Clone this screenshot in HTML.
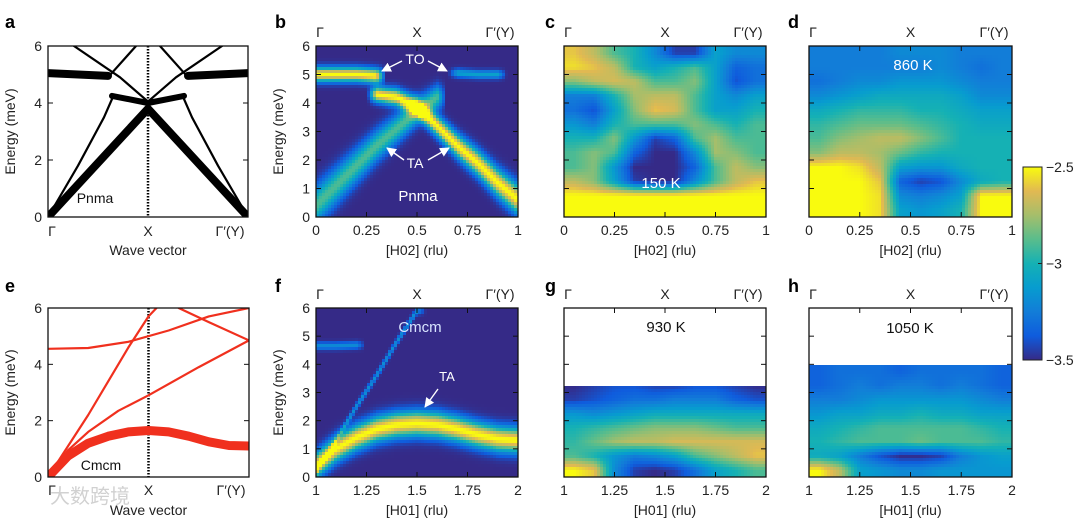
<!DOCTYPE html>
<html><head><meta charset="utf-8">
<style>
html,body{margin:0;padding:0;background:#fff;}
svg{display:block;font-family:"Liberation Sans","Noto Sans CJK SC",sans-serif;}
.t{font-size:14px;fill:#222;}
.l{font-size:18px;font-weight:bold;fill:#000;}
</style></head>
<body>
<svg id="fig" width="1080" height="519" viewBox="0 0 1080 519" xmlns="http://www.w3.org/2000/svg">
<defs>
<linearGradient id="parula" x1="0" y1="1" x2="0" y2="0">
<stop offset="0" stop-color="#352a87"/><stop offset="0.125" stop-color="#0f5cdd"/><stop offset="0.25" stop-color="#127dd8"/><stop offset="0.375" stop-color="#079ccf"/><stop offset="0.5" stop-color="#15b1b4"/><stop offset="0.625" stop-color="#59bd8c"/><stop offset="0.75" stop-color="#a5be6b"/><stop offset="0.875" stop-color="#e1b952"/><stop offset="1" stop-color="#f9fb0e"/>
</linearGradient>
<marker id="arr" viewBox="0 0 10 10" refX="9" refY="5" markerWidth="7" markerHeight="7" orient="auto"><path d="M0,0 L10,5 L0,10 z" fill="#fff"/></marker>
</defs>
<g id="root"></g>
</svg>
<script>
// ---------- data ----------
const bandKnots = [0,0.1,0.2,0.3,0.4,0.5,0.6,0.7,0.8,0.9,1.0];
const bTA1 = [0.4,1.1,1.8,2.5,3.1,3.7,4.2,null,null,null,null];
const bTA2 = [null,null,null,4.3,4.2,3.85,3.2,2.5,1.9,1.2,0.6];
const bTO1 = [5.0,5.0,5.0,4.95,null,null,null,null,null,null,null];
const bTO2 = [null,null,null,null,null,null,null,5.05,5.0,5.0,null];
const fTA = [0.4,1.0,1.4,1.7,1.85,1.9,1.85,1.7,1.5,1.35,1.3];
const fSteep = [0.2,1.3,2.5,3.6,4.8,5.9,null,null,null,null,null];
const fFlat = [4.65,4.65,4.68,null,null,null,null,null,null,null,null];
const cRows = [
[.9,.8,.6,.5,.3,.05,.05,.4,.3,.3],
[.95,.9,.8,.5,.4,.5,.6,.4,.15,.2],
[.7,.8,.85,.8,.6,.6,.7,.4,.1,.2],
[.25,.25,.5,.75,.8,.8,.6,.4,.3,.4],
[.2,.1,.4,.7,.9,.85,.6,.4,.4,.5],
[.35,.25,.5,.6,.6,.6,.7,.6,.5,.6],
[.5,.5,.7,.35,.05,.15,.6,.75,.6,.6],
[.6,.7,.6,.15,0,0,.3,.75,.7,.6],
[.6,.7,.35,0,0,0,.15,.6,.8,.7],
[.8,.7,.4,.05,0,0,.3,.6,.8,.9],
[1,1,1,1,1,1,1,1,1,1],
[1,1,1,1,1,1,1,1,1,1]];
const dRows = [
[.25,.25,.25,.25,.3,.3,.3,.25,.25,.25],
[.25,.25,.25,.25,.25,.25,.3,.25,.2,.25],
[.2,.25,.3,.3,.35,.35,.35,.3,.25,.25],
[.3,.35,.4,.45,.45,.45,.45,.4,.3,.3],
[.45,.5,.55,.55,.55,.5,.5,.45,.4,.4],
[.55,.6,.65,.65,.65,.6,.55,.5,.45,.45],
[.6,.7,.75,.8,.8,.7,.6,.5,.5,.5],
[.7,.8,.8,.75,.65,.55,.5,.5,.5,.5],
[1,1,.95,.8,.4,.35,.35,.45,.5,.5],
[1,1,1,.9,.15,.05,.1,.3,.45,.5],
[1,1,1,.95,.3,.25,.3,.4,1,1],
[1,1,1,.95,.4,.35,.4,.5,1,1]];
const gRows = [
[0,.05,.1,.1,.05,.05,.1,.1,.05,0],
[.05,.1,.15,.2,.2,.25,.25,.25,.15,.1],
[.35,.3,.35,.4,.45,.45,.45,.45,.45,.45],
[.5,.55,.6,.65,.7,.7,.7,.65,.6,.6],
[.55,.65,.75,.8,.8,.85,.85,.85,.85,.85],
[.6,.5,.35,.25,.3,.4,.6,.7,.8,.9],
[1,.9,.3,.05,0,.05,.2,.4,.5,.6]];
const hRows = [
[.15,.2,.2,.2,.15,.2,.2,.2,.2,.15],
[.15,.2,.25,.2,.25,.25,.2,.25,.2,.15],
[.25,.25,.3,.35,.35,.35,.35,.35,.3,.25],
[.35,.4,.4,.45,.45,.5,.45,.45,.4,.4],
[.45,.5,.55,.6,.6,.6,.6,.6,.55,.5],
[.5,.55,.6,.6,.6,.65,.6,.6,.6,.55],
[.45,.4,.25,.1,0,0,.05,.25,.35,.4],
[1,.8,.4,.35,.3,.3,.35,.35,.35,.35]];
const aAcoustic = [[0,0],[0.5,3.8],[1,0]];
const aTOleft = [[0,5.05],[0.3,4.95]];
const aTOright = [[0.7,4.95],[1,5.05]];
const aFlat4 = [[0.32,4.25],[0.5,4.0],[0.68,4.25]];
const aThin = [
[[0.13,6],[0.36,4.9],[0.5,4.05]],
[[0.87,6],[0.64,4.9],[0.5,4.05]],
[[0.3,4.9],[0.44,6]],
[[0.7,4.9],[0.56,6]],
[[0,0],[0.15,1.8],[0.28,3.5],[0.33,4.3]],
[[1,0],[0.85,1.8],[0.72,3.5],[0.67,4.3]]];
const eThick = [[0,0],[0.1,0.75],[0.2,1.2],[0.3,1.45],[0.4,1.6],[0.5,1.65],[0.6,1.6],[0.7,1.45],[0.8,1.25],[0.9,1.12],[1,1.1]];
const eThin = [
[[0,0],[0.1,0.95],[0.2,1.6],[0.35,2.35],[0.5,2.9],[0.75,3.9],[1,4.85]],
[[0,0],[0.1,1.1],[0.2,2.2],[0.4,4.6],[0.5,5.7],[0.54,6]],
[[0,4.55],[0.2,4.58],[0.4,4.8],[0.6,5.2],[0.8,5.7],[1,6.0]],
[[0.65,6],[0.8,5.5],[1,4.85]]];
const tickE6 = [0,2,4,6];
const tickE1 = [0,1,2,3,4,5,6];
const tickH02 = [0,0.25,0.5,0.75,1];
const tickH01 = [1,1.25,1.5,1.75,2];
const cbTicks = [-2.5,-3,-3.5];

// ---------- helpers ----------
const NS="http://www.w3.org/2000/svg";
const root=document.getElementById('root');
function mk(tag,attrs,parent){const e=document.createElementNS(NS,tag);for(const k in attrs)e.setAttribute(k,attrs[k]);(parent||root).appendChild(e);return e;}
function txt(x,y,s,cls,anchor,parent,extra){const e=mk('text',Object.assign({x:x,y:y,class:cls||'t','text-anchor':anchor||'middle'},extra||{}),parent);e.textContent=s;return e;}
const P={
a:{x0:48,x1:248,y0:46,y1:217,hmin:0,hmax:1},
b:{x0:316,x1:518,y0:46,y1:217,hmin:0,hmax:1},
c:{x0:564,x1:766,y0:46,y1:217,hmin:0,hmax:1},
d:{x0:809,x1:1012,y0:46,y1:217,hmin:0,hmax:1},
e:{x0:48,x1:249,y0:308,y1:477,hmin:0,hmax:1},
f:{x0:316,x1:518,y0:308,y1:477,hmin:1,hmax:2},
g:{x0:564,x1:766,y0:308,y1:477,hmin:1,hmax:2},
h:{x0:809,x1:1012,y0:308,y1:477,hmin:1,hmax:2}};
function xs(p,h){return p.x0+(h-p.hmin)/(p.hmax-p.hmin)*(p.x1-p.x0);}
function ys(p,E){return p.y1-E/6*(p.y1-p.y0);}
const PAR=[[53,42,135],[15,92,221],[18,125,216],[7,156,207],[21,177,180],[89,189,140],[165,190,107],[225,185,82],[249,251,14]];
function parula(v){v=Math.max(0,Math.min(1,v));const f=v*8,i=Math.min(7,Math.floor(f)),t=f-i;const a=PAR[i],b=PAR[i+1];return 'rgb('+a.map((c,k)=>Math.round(c+(b[k]-c)*t)).join(',')+')';}
function bandAt(arr,frac){const n=arr.length-1,f=frac*n,i=Math.min(n-1,Math.max(0,Math.floor(f))),t=f-i;const a=arr[i],b=arr[i+1];
if(a!=null&&b!=null)return {e:a+(b-a)*t,w:1};
if(a!=null)return {e:a,w:Math.max(0,1-t/0.45)};
if(b!=null)return {e:b,w:Math.max(0,1-(1-t)/0.45)};
return null;}
function simFn(p,bands){return function(h,E){const frac=(h-p.hmin)/(p.hmax-p.hmin);let v=0;for(const bd of bands){const r=bandAt(bd.arr,frac);if(r==null||r.w<=0)continue;const s=bd.s(frac);v+=bd.w*r.w*Math.exp(-(E-r.e)*(E-r.e)/(2*s*s));}return v;};}
function gridFn(p,rows){const nr=rows.length,nc=rows[0].length;return function(h,E){let ci=(h-p.hmin)/(p.hmax-p.hmin)*nc-0.5;let rb=E/0.5-0.5;ci=Math.max(0,Math.min(nc-1,ci));rb=Math.max(0,Math.min(nr-1,rb));const c0=Math.min(nc-2,Math.floor(ci)),tc=ci-c0;const r0=Math.min(nr-2,Math.floor(rb)),tr=rb-r0;const g=(r,c)=>rows[nr-1-r][c];const top=g(r0+1,c0)*(1-tc)+g(r0+1,c0+1)*tc;const bot=g(r0,c0)*(1-tc)+g(r0,c0+1)*tc;return bot*(1-tr)+top*tr;};}
function heat(p,fn,emax,name){const g=mk('g',{});


const st=3;for(let px=p.x0;px<p.x1;px+=st){for(let py=p.y0;py<p.y1;py+=st){const w=Math.min(st,p.x1-px),hh=Math.min(st,p.y1-py);const h=p.hmin+(px+w/2-p.x0)/(p.x1-p.x0)*(p.hmax-p.hmin);const E=(p.y1-(py+hh/2))/(p.y1-p.y0)*6;if(E>emax)continue;mk('rect',{x:px,y:py,width:w+0.4,height:hh+0.4,fill:parula(fn(h,E))},g);}}}
function poly(p,pts,color,w,name){const e=mk('polyline',{points:pts.map(q=>xs(p,q[0]).toFixed(1)+','+ys(p,q[1]).toFixed(1)).join(' '),fill:'none',stroke:color,'stroke-width':w,'stroke-linejoin':'round','stroke-linecap':'round','clip-path':'url(#clip-'+name.split('-')[0]+')'});


return e;}
function clip(id,p){const c=mk('clipPath',{id:'clip-'+id},document.querySelector('defs'));mk('rect',{x:p.x0,y:p.y0,width:p.x1-p.x0,height:p.y1-p.y0},c);}
function frame(id,p,yt,yLabels,xt,xLabels,tickColor){const g=mk('g',{});


mk('rect',{x:p.x0,y:p.y0,width:p.x1-p.x0,height:p.y1-p.y0,fill:'none',stroke:'#111','stroke-width':1.3},g);
for(const E of yt){const y=ys(p,E);mk('line',{x1:p.x0,y1:y,x2:p.x0+5,y2:y,stroke:tickColor,'stroke-width':1},g);mk('line',{x1:p.x1,y1:y,x2:p.x1-5,y2:y,stroke:tickColor,'stroke-width':1},g);if(yLabels){const t=txt(p.x0-6,y+5,String(E),'t','end',g);

}}
for(const h of xt){const x=xs(p,h);mk('line',{x1:x,y1:p.y1,x2:x,y2:p.y1-5,stroke:tickColor,'stroke-width':1},g);mk('line',{x1:x,y1:p.y0,x2:x,y2:p.y0+5,stroke:tickColor,'stroke-width':1},g);if(xLabels){const t=txt(x,p.y1+18,String(h),'t','middle',g);

}}}
function sym(p,yy,id){const lab=[['Γ',p.x0+4],['X',(p.x0+p.x1)/2],['Γ′(Y)',p.x1-18]];for(const L of lab){const t=txt(L[1],yy,L[0],'t','middle');

}}
function ylab(p,s){const cy=(p.y0+p.y1)/2,cx=p.x0-33;const t=txt(cx,cy,s,'t','middle',root,{transform:'rotate(-90 '+cx+' '+cy+')'});

}
function xlab(p,y,s){const t=txt((p.x0+p.x1)/2,y,s,'t','middle');

}
function letter(x,y,s){const t=txt(x,y,s,'l','start');

}
function note(x,y,s,color,size,name){const t=txt(x,y,s,'t','middle',root,{style:'fill:'+color+';font-size:'+size+'px'});

}
function arrow(x1,y1,x2,y2,name){const e=mk('line',{x1:x1,y1:y1,x2:x2,y2:y2,stroke:'#fff','stroke-width':1.4,'marker-end':'url(#arr)'});

}

// ---------- panel a ----------
let p=P.a;clip('a',p);
mk('line',{x1:xs(p,0.5),y1:p.y0,x2:xs(p,0.5),y2:p.y1,stroke:'#000','stroke-width':2.5,'stroke-dasharray':'1.5,1.5'});
poly(p,aAcoustic,'#000',8,'a-acoustic-band');
poly(p,aTOleft,'#000',8,'a-to-band-left');
poly(p,aTOright,'#000',8,'a-to-band-right');
poly(p,aFlat4,'#000',6,'a-optical-band');
aThin.forEach(l=>poly(p,l,'#000',2.2,'a-thin-band'));
frame('a',p,tickE6,true,[],false,'#111');
sym(p,p.y1+19,'a');xlab(p,255,'Wave vector');ylab(p,'Energy (meV)');letter(5,28,'a');
note(95,203,'Pnma','#111',14,'a-phase-label');

// ---------- panel b ----------
p=P.b;
heat(p,simFn(p,[{arr:bTA1,w:0.6,s:f=>0.45-0.3*f},{arr:bTA2,w:1.0,s:f=>0.1+0.25*f},{arr:bTO1,w:1.0,s:f=>0.17},{arr:bTO2,w:0.4,s:f=>0.1}]),6,'b-heatmap');
frame('b',p,tickE1,true,tickH02,true,'#111');
sym(p,37,'b');xlab(p,255,'[H02] (rlu)');ylab(p,'Energy (meV)');letter(275,28,'b');
note(415,64,'TO','#fff',14,'b-to-label');arrow(402,61,382,71,'b-to-arrow-left');arrow(428,61,447,71,'b-to-arrow-right');
note(415,168,'TA','#fff',14,'b-ta-label');arrow(404,160,387,148,'b-ta-arrow-left');arrow(428,160,449,148,'b-ta-arrow-right');
note(418,201,'Pnma','#fff',15,'b-phase-label');

// ---------- panel c ----------
p=P.c;heat(p,gridFn(p,cRows),6,'c-heatmap');
frame('c',p,tickE1,false,tickH02,true,'#111');sym(p,37,'c');xlab(p,255,'[H02] (rlu)');letter(545,28,'c');
note(661,188,'150 K','#fff',15,'c-temperature-label');

// ---------- panel d ----------
p=P.d;heat(p,gridFn(p,dRows),6,'d-heatmap');
frame('d',p,tickE1,false,tickH02,true,'#111');sym(p,37,'d');xlab(p,255,'[H02] (rlu)');letter(788,28,'d');
note(913,70,'860 K','#fff',15,'d-temperature-label');

// ---------- panel e ----------
p=P.e;clip('e',p);
mk('line',{x1:xs(p,0.5),y1:p.y0,x2:xs(p,0.5),y2:p.y1,stroke:'#000','stroke-width':2.5,'stroke-dasharray':'1.5,1.5'});
poly(p,eThick,'#f0301e',9,'e-acoustic-band');
eThin.forEach(l=>poly(p,l,'#f0301e',2.2,'e-thin-band'));
frame('e',p,tickE6,true,[],false,'#111');
sym(p,p.y1+18,'e');xlab(p,515,'Wave vector');ylab(p,'Energy (meV)');letter(5,292,'e');
note(101,470,'Cmcm','#111',14,'e-phase-label');
note(90,503,'大数跨境','rgba(190,190,190,0.7)',20,'watermark');

// ---------- panel f ----------
p=P.f;
heat(p,simFn(p,[{arr:fTA,w:1.0,s:f=>0.3},{arr:fSteep,w:0.32,s:f=>0.09},{arr:fFlat,w:0.3,s:f=>0.09}]),6,'f-heatmap');
frame('f',p,tickE1,true,tickH01,true,'#111');
sym(p,299,'f');xlab(p,515,'[H01] (rlu)');ylab(p,'Energy (meV)');letter(275,292,'f');
note(420,332,'Cmcm','#d8e4ff',15,'f-phase-label');
note(447,381,'TA','#fff',13,'f-ta-label');arrow(438,389,425,407,'f-ta-arrow');

// ---------- panel g ----------
p=P.g;heat(p,gridFn(p,gRows),3.2,'g-heatmap');
frame('g',p,tickE1,false,tickH01,true,'#111');sym(p,299,'g');xlab(p,515,'[H01] (rlu)');letter(545,292,'g');
note(666,332,'930 K','#111',15,'g-temperature-label');

// ---------- panel h ----------
p=P.h;heat(p,gridFn(p,hRows),4.0,'h-heatmap');
frame('h',p,tickE1,false,tickH01,true,'#111');sym(p,299,'h');xlab(p,515,'[H01] (rlu)');letter(788,292,'h');
note(910,333,'1050 K','#111',15,'h-temperature-label');

// ---------- colorbar ----------
const cb={x:1023,w:19,y0:167,y1:360,vmin:-3.5,vmax:-2.5};
const cbr=mk('rect',{x:cb.x,y:cb.y0,width:cb.w,height:cb.y1-cb.y0,fill:'url(#parula)',stroke:'#222','stroke-width':1});


for(const v of cbTicks){const y=cb.y1-(v-cb.vmin)/(cb.vmax-cb.vmin)*(cb.y1-cb.y0);mk('line',{x1:cb.x+cb.w-4,y1:y,x2:cb.x+cb.w,y2:y,stroke:'#222'});const t=txt(cb.x+cb.w+4,y+5,String(v).replace('-','−'),'t','start');

}
</script>
</body></html>
